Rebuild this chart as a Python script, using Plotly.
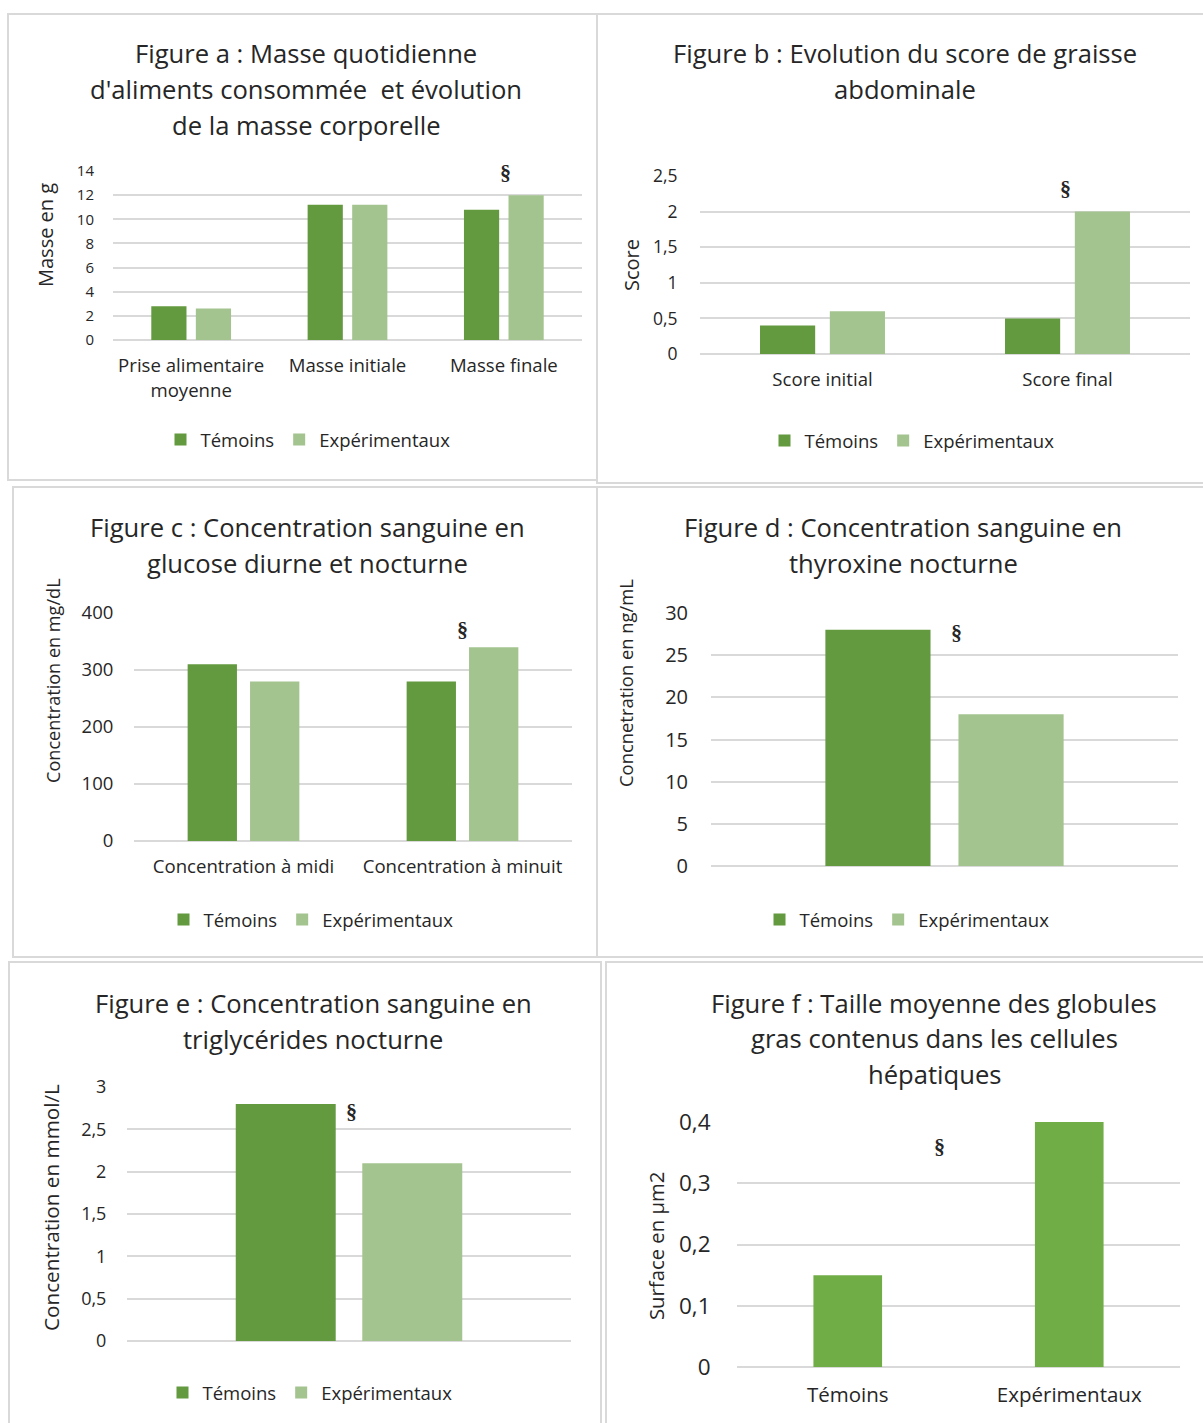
import plotly.graph_objects as go

W, H = 1203, 1423

# ---------------- data ----------------
series_names = ["Témoins", "Expérimentaux"]

a_categories = ["Prise alimentaire<br>moyenne", "Masse initiale", "Masse finale"]
a_temoins = [2.8, 11.2, 10.8]
a_experimentaux = [2.6, 11.2, 12.0]

b_categories = ["Score initial", "Score final"]
b_temoins = [0.4, 0.5]
b_experimentaux = [0.6, 2.0]

c_categories = ["Concentration à midi", "Concentration à minuit"]
c_temoins = [310, 280]
c_experimentaux = [280, 340]

d_categories = ["Thyroxine"]
d_temoins = [28]
d_experimentaux = [18]

e_categories = ["Triglycérides"]
e_temoins = [2.8]
e_experimentaux = [2.1]

f_categories = ["Témoins", "Expérimentaux"]
f_values = [0.15, 0.40]

a_title = ["Figure a : Masse quotidienne", "d'aliments consommée\u00a0 et évolution", "de la masse corporelle"]
b_title = ["Figure b : Evolution du score de graisse", "abdominale"]
c_title = ["Figure c : Concentration sanguine en", "glucose diurne et nocturne"]
d_title = ["Figure d : Concentration sanguine en", "thyroxine nocturne"]
e_title = ["Figure e : Concentration sanguine en", "triglycérides nocturne"]
f_title = ["Figure f : Taille moyenne des globules", "gras contenus dans les cellules", "hépatiques"]

# ---------------- style ----------------
DARK = "#639A3F"
LIGHT = "#A3C48F"
MID = "#70AD47"
GRID = "#D9D9D9"
BORDER = "#D9D9D9"
TXT = "#262626"
FONT = "Open Sans"
SERIF = "Liberation Serif"

panels = [
    dict(cats=a_categories, vals=[a_temoins, a_experimentaux], box=(113, 171, 582, 340), rng=[0, 14], dtick=2,
         tsize=15, tlen=15, csize=18.6, title=a_title, tx=306, ty=[53, 89, 125], ytitle="Masse en g", yt=(46, 235), ytsize=20,
         legend=(308, 440), border=(8, 14, 597, 480), mark=(2.01, 13.9), showcats=True),
    dict(cats=b_categories, vals=[b_temoins, b_experimentaux], box=(700, 176, 1190, 354), rng=[0, 2.5], dtick=0.5,
         tsize=17.5, tlen=18, csize=18.6, title=b_title, tx=905, ty=[53, 89], ytitle="Score", yt=(631, 265), ytsize=20,
         legend=(912, 441), border=(597, 14, 1212, 483), mark=(0.99, 2.33), showcats=True),
    dict(cats=c_categories, vals=[c_temoins, c_experimentaux], box=(134, 613, 572, 841), rng=[0, 400], dtick=100,
         tsize=18.5, tlen=16, csize=18.6, title=c_title, tx=307, ty=[527, 563], ytitle="Concentration en mg/dL", yt=(53, 681), ytsize=18.1,
         legend=(311, 920), border=(13, 487, 597, 957), mark=(1.0, 371), showcats=True),
    dict(cats=d_categories, vals=[d_temoins, d_experimentaux], box=(711, 613, 1178, 866), rng=[0, 30], dtick=5,
         tsize=20, tlen=18, csize=18.6, title=d_title, tx=903, ty=[527, 563], ytitle="Concnetration en ng/mL", yt=(625, 683), ytsize=18.4,
         legend=(907, 920), border=(597, 487, 1212, 957), mark=(0.025, 27.7), showcats=False),
    dict(cats=e_categories, vals=[e_temoins, e_experimentaux], box=(127, 1087, 571, 1341), rng=[0, 3], dtick=0.5,
         tsize=18, tlen=16, csize=18.6, title=e_title, tx=313, ty=[1003, 1039], ytitle="Concentration en mmol/L", yt=(51, 1208), ytsize=20.7,
         legend=(310, 1393), border=(9, 962, 601, 1432), mark=(0.005, 2.71), showcats=False),
    dict(cats=f_categories, vals=[f_values], box=(737, 1122, 1180, 1367), rng=[0, 0.4], dtick=0.1,
         tsize=22.5, tlen=21, csize=20.5, title=f_title, tx=934, ty=[1003, 1038, 1074], ytitle="Surface en µm2", yt=(656, 1246), ytsize=20.3,
         legend=None, border=(606, 962, 1212, 1432), mark=(0.416, 0.36), showcats=True),
]


def px(x):
    return x / W


def py(y):
    return 1 - y / H


fig = go.Figure()
layout = dict(
    width=W, height=H, margin=dict(l=0, r=0, t=0, b=0, pad=0, autoexpand=False),
    paper_bgcolor="white", plot_bgcolor="white",
    barmode="group", bargap=0.43, bargroupgap=0.21,
    separators=", ",
    font=dict(family=FONT, color=TXT),
    showlegend=True,
)
annotations = []
shapes = []

for i, p in enumerate(panels, start=1):
    sfx = "" if i == 1 else str(i)
    xid, yid = "x" + sfx, "y" + sfx
    legid = "legend" + sfx
    x0, y0, x1, y1 = p["box"]
    n = len(p["cats"])

    if len(p["vals"]) == 2:
        for name, vals, col in zip(series_names, p["vals"], [DARK, LIGHT]):
            fig.add_trace(go.Bar(x=p["cats"], y=vals, name=name, marker=dict(color=col, line=dict(width=0)),
                                 xaxis=xid, yaxis=yid, legend=legid, hoverinfo="x+y"))
    else:
        fig.add_trace(go.Bar(x=p["cats"], y=p["vals"][0], name="Surface", marker=dict(color=MID, line=dict(width=0)),
                             width=0.31, xaxis=xid, yaxis=yid, showlegend=False))

    layout["xaxis" + sfx] = dict(
        domain=[px(x0), px(x1)], anchor=yid, type="category", range=[-0.5, n - 0.5], automargin=False,
        showgrid=False, showline=False, zeroline=False, fixedrange=True,
        ticks="outside", ticklen=9, tickcolor="rgba(0,0,0,0)",
        showticklabels=p["showcats"], tickfont=dict(size=p["csize"], color=TXT, family=FONT),
    )
    layout["yaxis" + sfx] = dict(
        domain=[py(y1), py(y0)], anchor=xid, range=p["rng"], tick0=0, dtick=p["dtick"], automargin=False,
        showgrid=True, gridcolor=GRID, gridwidth=1.5,
        zeroline=True, zerolinecolor=GRID, zerolinewidth=1.5, showline=False, fixedrange=True,
        ticks="outside", ticklen=p["tlen"], tickcolor="rgba(0,0,0,0)",
        tickfont=dict(size=p["tsize"], color=TXT, family=FONT),
    )

    if p["legend"] is not None:
        lx, ly = p["legend"]
        layout[legid] = dict(
            orientation="h", x=px(lx), y=py(ly), xanchor="center", yanchor="middle",
            font=dict(size=18.5, color=TXT, family=FONT), bgcolor="rgba(0,0,0,0)",
            traceorder="normal", itemclick=False, itemdoubleclick=False,
        )

    # titles, one annotation per line
    for line, ty in zip(p["title"], p["ty"]):
        annotations.append(dict(text=line, x=px(p["tx"]), y=py(ty), xref="paper", yref="paper",
                                xanchor="center", yanchor="middle", showarrow=False,
                                font=dict(size=25.6, color=TXT, family=FONT)))
    # y axis title
    yx, yy = p["yt"]
    annotations.append(dict(text=p["ytitle"], x=px(yx), y=py(yy), xref="paper", yref="paper",
                            xanchor="center", yanchor="middle", textangle=-90, showarrow=False,
                            font=dict(size=p["ytsize"], color=TXT, family=FONT)))
    # significance mark
    mx, my = p["mark"]
    annotations.append(dict(text="<b>§</b>", x=mx, y=my, xref=xid, yref=yid,
                            xanchor="center", yanchor="middle", showarrow=False,
                            font=dict(size=22, color=TXT, family=SERIF)))
    # panel border
    bx0, by0, bx1, by1 = p["border"]
    shapes.append(dict(type="rect", xref="paper", yref="paper",
                       x0=px(bx0), x1=px(bx1), y0=py(by1), y1=py(by0),
                       line=dict(color=BORDER, width=2), fillcolor="rgba(0,0,0,0)", layer="below"))

layout["annotations"] = annotations
layout["shapes"] = shapes
fig.update_layout(**layout)

post = (
    "document.documentElement.style.margin='0';"
    "document.body.style.margin='0';"
)
fig.write_html("out.html", config={"displayModeBar": False}, post_script=post)
